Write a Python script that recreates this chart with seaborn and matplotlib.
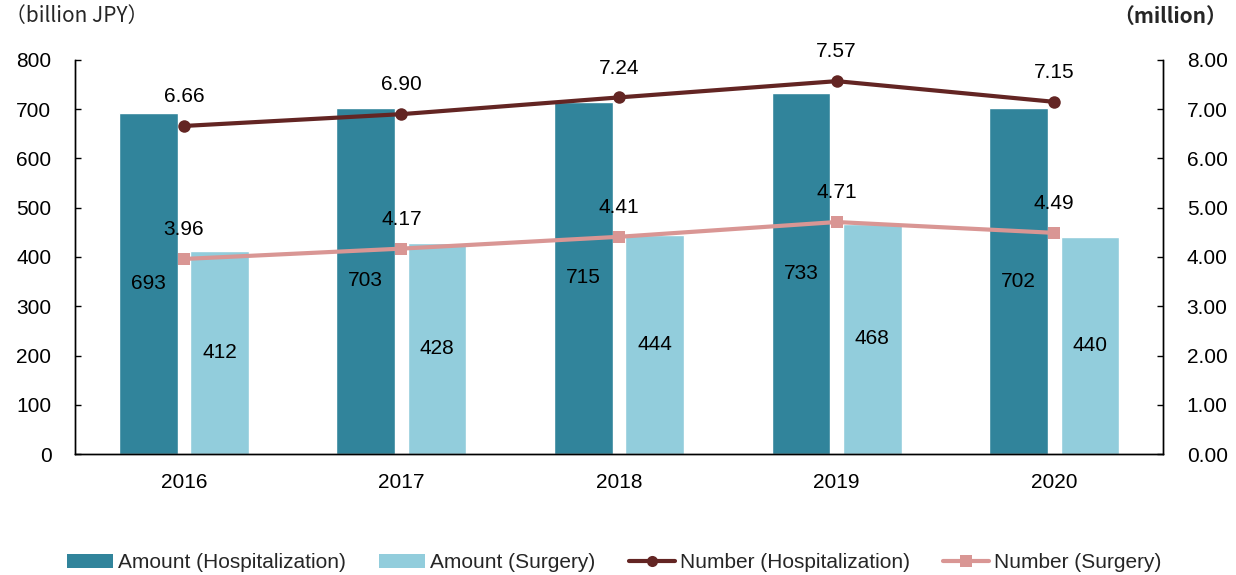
import numpy as np
import pandas as pd
import matplotlib
matplotlib.use("Agg")
import matplotlib.pyplot as plt
from matplotlib.lines import Line2D
from matplotlib.patches import Patch
import seaborn as sns

years = ["2016", "2017", "2018", "2019", "2020"]
amount_hosp = [693, 703, 715, 733, 702]
amount_surg = [412, 428, 444, 468, 440]
number_hosp = [6.66, 6.90, 7.24, 7.57, 7.15]
number_surg = [3.96, 4.17, 4.41, 4.71, 4.49]

series_names = ["Amount (Hospitalization)", "Amount (Surgery)",
                "Number (Hospitalization)", "Number (Surgery)"]
c_hosp_bar = "#31849B"
c_surg_bar = "#92CDDC"
c_hosp_line = "#632523"
c_surg_line = "#D99694"

FS = 15

sns.set_theme(style="white")
plt.rcParams["font.family"] = ["Liberation Sans", "Noto Sans CJK JP", "DejaVu Sans"]
plt.rcParams["font.size"] = FS

bars = pd.DataFrame({
    "year": years * 2,
    "amount": amount_hosp + amount_surg,
    "series": [series_names[0]] * len(years) + [series_names[1]] * len(years),
})

fig = plt.figure(figsize=(12.36, 5.75), dpi=100)
ax = fig.add_axes([0.0607, 0.2104, 0.8803, 0.6853])

sns.barplot(data=bars, x="year", y="amount", hue="series", order=years,
            palette=[c_hosp_bar, c_surg_bar], width=0.655, gap=0.175,
            saturation=1, legend=False, ax=ax)

for container in ax.containers:
    for rect in container:
        h = rect.get_height()
        ax.text(rect.get_x() + rect.get_width() / 2, h / 2, f"{h:.0f}",
                ha="center", va="center", fontsize=FS, color="black")

ax.set_ylim(0, 800)
ax.set_yticks(np.arange(0, 801, 100))
ax.set_xlim(-0.5, len(years) - 0.5)
ax.set_xlabel("")
ax.set_ylabel("")

ax2 = ax.twinx()
pos = list(range(len(years)))
sns.lineplot(x=pos, y=number_hosp, ax=ax2, color=c_hosp_line, lw=3,
             marker="o", markersize=9, markeredgewidth=0)
sns.lineplot(x=pos, y=number_surg, ax=ax2, color=c_surg_line, lw=3,
             marker="s", markersize=9, markeredgewidth=0)
ax2.set_ylim(0, 8)
ax2.set_yticks(np.arange(0, 8.01, 1))
ax2.set_yticklabels([f"{v:.2f}" for v in np.arange(0, 8.01, 1)])

for vals in (number_hosp, number_surg):
    for x, v in zip(pos, vals):
        ax2.annotate(f"{v:.2f}", (x, v), xytext=(0, 21), textcoords="offset points",
                     ha="center", va="center", fontsize=FS, color="black")

for a in (ax, ax2):
    a.spines["top"].set_visible(False)
    for s in ("left", "right", "bottom"):
        a.spines[s].set_color("black")
        a.spines[s].set_linewidth(1.0)
    a.tick_params(axis="y", direction="in", length=4, width=1, colors="black",
                  labelsize=FS)
    a.tick_params(axis="x", length=0, labelsize=FS, pad=14, colors="black")
    a.grid(False)

ax.tick_params(axis="y", left=True, right=False, pad=17)
ax2.tick_params(axis="y", left=False, right=True, pad=17)

fig.text(0.004, 0.972, "（billion JPY）", ha="left", va="center", fontsize=FS,
         family=["Noto Sans CJK JP", "DejaVu Sans"])
fig.text(0.993, 0.972, "（million）", ha="right", va="center", fontsize=FS,
         fontweight="bold", family=["Noto Sans CJK JP", "DejaVu Sans"])

handles = [
    Patch(facecolor=c_hosp_bar, edgecolor="none"),
    Patch(facecolor=c_surg_bar, edgecolor="none"),
    Line2D([], [], color=c_hosp_line, lw=3, marker="o", markersize=8, markeredgewidth=0),
    Line2D([], [], color=c_surg_line, lw=3, marker="s", markersize=8, markeredgewidth=0),
]
fig.legend(handles, series_names, loc="center", bbox_to_anchor=(0.497, 0.021),
           ncol=4, frameon=False, fontsize=FS, handlelength=2.2, handleheight=0.6,
           handletextpad=0.25, columnspacing=1.6)

fig.savefig("out.png", dpi=100)
